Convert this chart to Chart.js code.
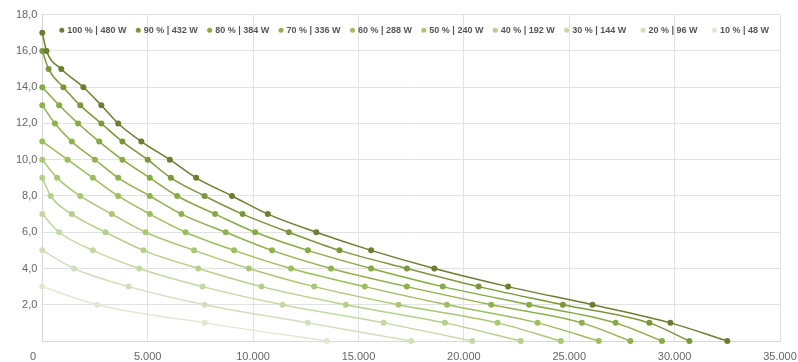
<!DOCTYPE html>
<html>
<head>
<meta charset="utf-8">
<script src="https://cdn.jsdelivr.net/npm/chart.js@4.4.0/dist/chart.umd.min.js"></script>
<style>
  html, body { margin: 0; padding: 0; background: #fff; }
  #wrap { width: 798px; height: 362px; }
</style>
</head>
<body>
<div id="wrap"><canvas id="chart"></canvas></div>
<script>
// y levels shared by every curve (each curve uses the tail of this list)
const yLevels = [17, 16, 15, 14, 13, 12, 11, 10, 9, 8, 7, 6, 5, 4, 3, 2, 1, 0];

// x values per curve
const load100 = [0, 200, 900, 1950, 2800, 3600, 4700, 6050, 7300, 9000, 10700, 13000, 15600, 18600, 22100, 26100, 29800, 32500];
const load90 = [0, 300, 1000, 1800, 2800, 3800, 5000, 6100, 7700, 9500, 11700, 14100, 17300, 20700, 24700, 28800, 30700];
const load80 = [0, 800, 1700, 2700, 3800, 5100, 6400, 8200, 10100, 12600, 15600, 19000, 23100, 27200, 29400];
const load70 = [0, 600, 1400, 2500, 3600, 5100, 6600, 8700, 10900, 13700, 17300, 21300, 25600, 27900];
const load60 = [0, 1200, 2400, 3600, 5100, 6800, 9100, 11800, 15300, 19200, 23500, 26400];
const load50 = [0, 700, 1800, 3300, 4900, 7200, 9800, 12900, 16900, 21600, 24600];
const load40 = [0, 400, 1400, 3000, 4800, 7400, 10400, 14400, 19100, 22700];
const load30 = [0, 800, 2400, 4600, 7600, 11400, 16200, 20400];
const load20 = [0, 1500, 4100, 7700, 12600, 17500];
const load10 = [0, 2600, 7700, 13500];

const seriesLabels = ['100 % | 480 W', '90 % | 432 W', '80 % | 384 W', '70 % | 336 W', '60 % | 288 W',
  '50 % | 240 W', '40 % | 192 W', '30 % | 144 W', '20 % | 96 W', '10 % | 48 W'];
const seriesX = [load100, load90, load80, load70, load60, load50, load40, load30, load20, load10];
const colors = ['#6c7d32', '#7a983b', '#86aa44', '#8fb14e', '#9cbf5c', '#a9c874', '#b5d08b', '#c3d9a4', '#d0e0bc', '#e0e8d2'];

const xTicks = [0, 5000, 10000, 15000, 20000, 25000, 30000, 35000];
const yTicks = [2, 4, 6, 8, 10, 12, 14, 16, 18];

const FONT = '"Liberation Sans", Arial, Helvetica, sans-serif';

function thousands(v) {
  return String(v).replace(/\B(?=(\d{3})+(?!\d))/g, '.');
}

const datasets = seriesX.map((xs, i) => {
  const ys = yLevels.slice(yLevels.length - xs.length);
  return {
    label: seriesLabels[i],
    data: xs.map((x, k) => ({ x: x, y: ys[k] })),
    borderColor: colors[i],
    backgroundColor: colors[i],
    pointBackgroundColor: colors[i],
    pointBorderColor: colors[i],
    borderWidth: 1.5,
    pointRadius: 3,
    pointBorderWidth: 0,
    cubicInterpolationMode: 'monotone',
    clip: false,
    showLine: true
  };
});

// legend row inside the plot, labels right-aligned in equal cells
const cellLegend = {
  id: 'cellLegend',
  afterDatasetsDraw(chart) {
    const { ctx, chartArea } = chart;
    const sets = chart.data.datasets;
    const cell = 71.4;
    const y = chartArea.top + 15.5;
    ctx.save();
    ctx.font = 'bold 9px ' + FONT;
    ctx.textAlign = 'right';
    ctx.textBaseline = 'middle';
    sets.forEach((ds, i) => {
      const right = chartArea.right - 11 - (sets.length - 1 - i) * cell;
      const w = ctx.measureText(ds.label).width;
      ctx.fillStyle = ds.borderColor;
      ctx.beginPath();
      ctx.arc(right - w - 5.5, y, 2.5, 0, Math.PI * 2);
      ctx.fill();
      ctx.fillStyle = '#555';
      ctx.fillText(ds.label, right, y);
    });
    ctx.restore();
  }
};

new Chart(document.getElementById('chart'), {
  type: 'scatter',
  data: { datasets: datasets },
  plugins: [cellLegend],
  options: {
    responsive: true,
    maintainAspectRatio: false,
    animation: false,
    layout: { padding: { top: 14.7, left: 16, right: 18, bottom: 0 } },
    plugins: {
      tooltip: { enabled: false },
      legend: { display: false }
    },
    scales: {
      x: {
        type: 'linear',
        min: 0,
        max: 35000,
        afterBuildTicks: axis => { axis.ticks = xTicks.map(v => ({ value: v })); },
        afterFit: axis => { axis.paddingLeft = 0; axis.paddingRight = 0; axis.height = 21; },
        grid: { color: '#e2e2e2', lineWidth: 1, drawTicks: false },
        border: { color: '#d8d8d8' },
        ticks: {
          padding: 10,
          color: '#666',
          font: { family: FONT, size: 11, lineHeight: 1 },
          maxRotation: 0,
          callback: v => v === 0 ? '0      ' : thousands(v)
        }
      },
      y: {
        type: 'linear',
        min: 0,
        max: 18,
        afterBuildTicks: axis => { axis.ticks = yTicks.map(v => ({ value: v })); },
        afterFit: axis => { axis.paddingTop = 0; axis.paddingBottom = 0; axis.width = 26.3; },
        grid: { color: '#e2e2e2', lineWidth: 1, drawTicks: false },
        border: { color: '#d8d8d8' },
        ticks: {
          padding: 5,
          color: '#666',
          font: { family: FONT, size: 11 },
          callback: v => v.toFixed(1).replace('.', ',')
        }
      }
    }
  }
});
</script>
</body>
</html>
